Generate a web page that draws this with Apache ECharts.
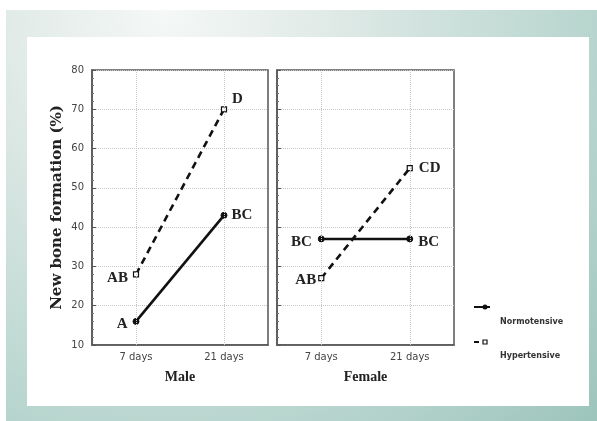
<!DOCTYPE html>
<html>
<head>
<meta charset="utf-8">
<script src="https://cdn.jsdelivr.net/npm/echarts@6/dist/echarts.min.js"></script>
<style>
html,body{margin:0;padding:0;background:#fff;}
#chart{width:597px;height:421px;}
</style>
</head>
<body>
<div id="chart"></div>
<script>
// ---- data ----
const categories = ['7 days', '21 days'];
const panels = ['Male', 'Female'];
const seriesNames = ['Normotensive', 'Hypertensive'];
const maleNormo = [16, 43];
const maleHyper = [28, 70];
const femaleNormo = [37, 37];
const femaleHyper = [27, 55];
const maleNormoLetters = ['A', 'BC'];
const maleHyperLetters = ['AB', 'D'];
const femaleNormoLetters = ['BC', 'BC'];
const femaleHyperLetters = ['AB', 'CD'];
const yMin = 10, yMax = 80, yStep = 10;
const yAxisTitle = 'New bone formation (%)';

// ---- styles ----
const serif = 'Liberation Serif';
const sans = 'DejaVu Sans';
const frameColor = '#555';

function labelled(values, letters, opts) {
  return values.map((v, i) => ({
    value: v,
    label: Object.assign({
      show: true, formatter: letters[i], fontFamily: serif, fontWeight: 'bold', fontSize: 15, color: '#222'
    }, opts[i])
  }));
}

function makeSeries(name, values, letters, opts, gi, hyper, withMark) {
  const s = {
    name: name, type: 'line', xAxisIndex: gi, yAxisIndex: gi,
    data: labelled(values, letters, opts),
    symbol: hyper ? 'rect' : 'circle',
    symbolSize: hyper ? 5 : 6,
    itemStyle: hyper ? { color: '#fff', borderColor: '#111', borderWidth: 1.2 } : { color: '#111', borderColor: '#111' },
    lineStyle: { color: '#111', width: 2.6, type: hyper ? [7, 5] : 'solid' },
    z: hyper ? 3 : 4
  };
  if (withMark) {
    s.markLine = {
      silent: true, symbol: 'none', label: { show: false },
      lineStyle: { color: '#c8c8c8', type: 'dotted', width: 1 },
      data: categories.map(c => ({ xAxis: c }))
    };
  }
  return s;
}

const grids = [
  { left: 92, top: 70, width: 176, height: 275 },
  { left: 277, top: 70, width: 177, height: 275 }
];

const chart = echarts.init(document.getElementById('chart'), null, { renderer: 'canvas' });

const option = {
  animation: false,
  backgroundColor: '#fff',
  graphic: [
    {
      type: 'rect', z: -10, silent: true,
      shape: { x: 6, y: 10, width: 591, height: 411 },
      style: {
        fill: {
          type: 'radial', x: 165, y: 10, r: 600, global: true,
          colorStops: [
            { offset: 0, color: '#f5f8f7' },
            { offset: 0.27, color: '#e0eae7' },
            { offset: 0.73, color: '#b6d4cd' },
            { offset: 1, color: '#9cc4bb' }
          ]
        }
      }
    },
    {
      type: 'rect', z: -9, silent: true,
      shape: { x: 27, y: 37, width: 562, height: 369 },
      style: { fill: '#fff' }
    },
    // legend
    { type: 'line', shape: { x1: 474, y1: 307, x2: 490, y2: 307 }, style: { stroke: '#111', lineWidth: 2 } },
    { type: 'circle', shape: { cx: 485, cy: 307, r: 2.5 }, style: { fill: '#111' } },
    { type: 'text', left: 500, top: 318, style: { text: seriesNames[0], font: 'bold 8px "DejaVu Sans"', fill: '#333' } },
    { type: 'line', shape: { x1: 474, y1: 342, x2: 479, y2: 342 }, style: { stroke: '#111', lineWidth: 2 } },
    { type: 'rect', shape: { x: 483, y: 340, width: 4, height: 4 }, style: { fill: '#fff', stroke: '#111', lineWidth: 1.2 } },
    { type: 'text', left: 500, top: 352, style: { text: seriesNames[1], font: 'bold 8px "DejaVu Sans"', fill: '#333' } }
  ],
  grid: grids.map(g => Object.assign({ show: true, borderColor: frameColor, borderWidth: 1.5, backgroundColor: 'transparent' }, g)),
  xAxis: panels.map((p, i) => ({
    type: 'category', gridIndex: i, data: categories, boundaryGap: true,
    name: p, nameLocation: 'middle', nameGap: 25,
    nameTextStyle: { fontFamily: serif, fontWeight: 'bold', fontSize: 14, color: '#222' },
    axisLine: { lineStyle: { color: frameColor, width: 1.5 } },
    axisTick: { alignWithLabel: true, inside: true, length: 4, lineStyle: { color: frameColor } },
    axisLabel: { fontFamily: sans, fontSize: 10, color: '#444', margin: 7 },
    splitLine: { show: false }
  })),
  yAxis: panels.map((p, i) => ({
    type: 'value', gridIndex: i, min: yMin, max: yMax, interval: yStep,
    name: i === 0 ? yAxisTitle : '', nameLocation: 'middle', nameGap: 27,
    nameTextStyle: { fontFamily: 'DejaVu Serif', fontWeight: 'bold', fontSize: 15, color: '#222' },
    axisLine: { show: true, lineStyle: { color: frameColor, width: 1.5 } },
    axisTick: { show: true, inside: true, length: 4, lineStyle: { color: frameColor } },
    minorTick: { show: true, splitNumber: 5, length: 2, lineStyle: { color: '#777' } },
    axisLabel: { show: i === 0, fontFamily: sans, fontSize: 10, color: '#444', margin: 8 },
    splitLine: { show: true, lineStyle: { color: '#c8c8c8', type: 'dotted', width: 1 } }
  })),
  series: [
    makeSeries(seriesNames[0], maleNormo, maleNormoLetters,
      [{ position: 'left', distance: 5, offset: [0, 3] }, { position: 'right', distance: 4 }], 0, false, true),
    makeSeries(seriesNames[1], maleHyper, maleHyperLetters,
      [{ position: 'left', distance: 5, offset: [0, 4] }, { position: 'right', distance: 5, offset: [0, -10] }], 0, true, false),
    makeSeries(seriesNames[0], femaleNormo, femaleNormoLetters,
      [{ position: 'left', distance: 6, offset: [0, 3] }, { position: 'right', distance: 5, offset: [0, 3] }], 1, false, true),
    makeSeries(seriesNames[1], femaleHyper, femaleHyperLetters,
      [{ position: 'left', distance: 2, offset: [0, 2] }, { position: 'right', distance: 6 }], 1, true, false)
  ]
};
chart.setOption(option);
</script>
</body>
</html>
